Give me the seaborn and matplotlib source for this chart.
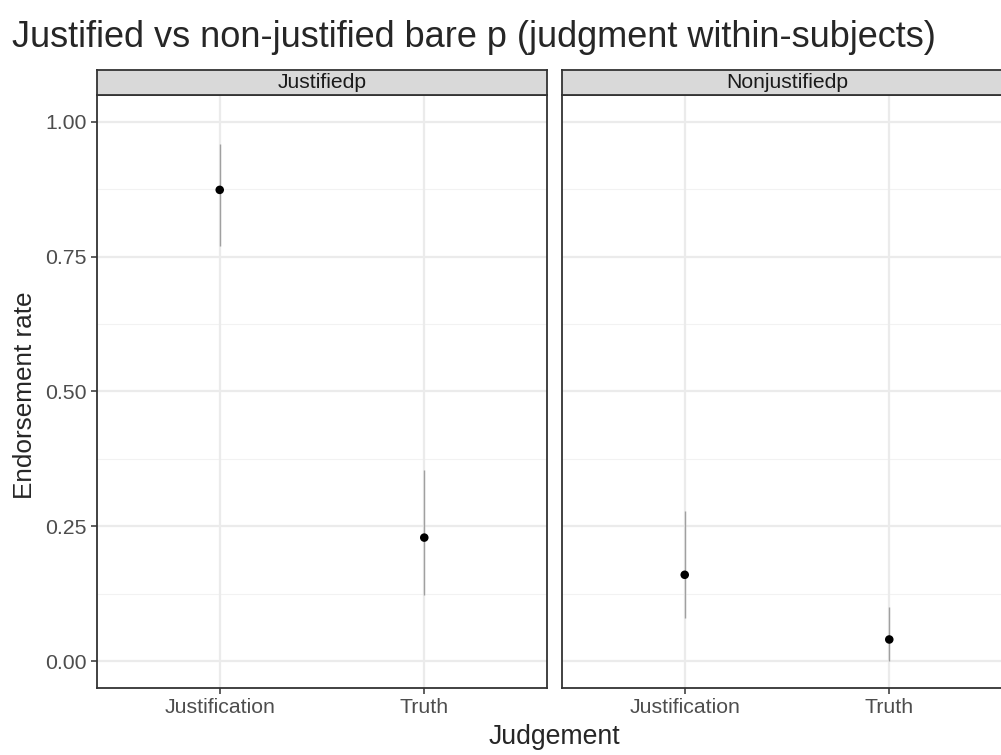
import numpy as np
import matplotlib
matplotlib.use('Agg')
import matplotlib.pyplot as plt
import pandas as pd
import seaborn as sns

# Data
panels = ['Justifiedp', 'Nonjustifiedp']
judgements = ['Justification', 'Truth']
rate = [0.874, 0.229, 0.160, 0.040]
lower = [0.770, 0.122, 0.080, 0.000]
upper = [0.959, 0.355, 0.278, 0.100]

df = pd.DataFrame({
    'panel': np.repeat(panels, len(judgements)),
    'Judgement': judgements * len(panels),
    'rate': rate,
    'lower': lower,
    'upper': upper,
})

sns.set_theme(style='white')
plt.rcParams['font.family'] = ['Liberation Sans', 'DejaVu Sans']

W, H = 1001, 755
fig = plt.figure(figsize=(W / 100, H / 100), dpi=100)

def fx(px):
    return px / W

def fy(px):
    return 1 - px / H

lefts = [97, 562]
pw = 450
top, bottom, strip_top = 95, 688, 70

for i, p in enumerate(panels):
    ax = fig.add_axes([fx(lefts[i]), fy(bottom), fx(pw), (bottom - top) / H])
    sub = df[df['panel'] == p]
    xs = [judgements.index(j) for j in sub['Judgement']]

    # grid (theme_bw)
    for y in [0.125, 0.375, 0.625, 0.875]:
        ax.axhline(y, color='#F2F2F2', lw=0.8, zorder=0)
    for y in [0, 0.25, 0.5, 0.75, 1.0]:
        ax.axhline(y, color='#EBEBEB', lw=1.6, zorder=0)
    for x in range(len(judgements)):
        ax.axvline(x, color='#EBEBEB', lw=1.6, zorder=0)

    ax.vlines(xs, sub['lower'], sub['upper'], color='#A0A0A0', lw=1.0, zorder=2)
    sns.scatterplot(x=xs, y=sub['rate'].values, ax=ax, color='black', s=38,
                    edgecolor='none', zorder=3)

    ax.set_xlim(-0.6, len(judgements) - 0.4)
    ax.set_ylim(-0.05, 1.05)
    ax.set_xticks(range(len(judgements)))
    ax.set_xticklabels(judgements)
    ax.set_yticks([0, 0.25, 0.5, 0.75, 1.0])
    if i == 0:
        ax.set_yticklabels(['0.00', '0.25', '0.50', '0.75', '1.00'])
    else:
        ax.set_yticklabels([])
    ax.tick_params(axis='both', which='major', length=4.5, width=1.1,
                   color='#333333', labelcolor='#4D4D4D', labelsize=15.3,
                   pad=3, bottom=True, left=True)
    if i == 1:
        ax.tick_params(axis='y', length=0)
    ax.set_xlabel('')
    ax.set_ylabel('')
    for s in ax.spines.values():
        s.set_color('#333333')
        s.set_linewidth(1.3)

    # facet strip
    sax = fig.add_axes([fx(lefts[i]), fy(top), fx(pw), (top - strip_top) / H])
    sax.set_facecolor('#D9D9D9')
    sax.set_xticks([])
    sax.set_yticks([])
    for s in sax.spines.values():
        s.set_color('#333333')
        s.set_linewidth(1.3)
    sax.text(0.5, 0.5, p, ha='center', va='center', fontsize=15.2,
             color='#1A1A1A', transform=sax.transAxes)

fig.text(fx(554), fy(744), 'Judgement', ha='center', va='baseline', fontsize=19.2)
fig.text(fx(25), fy(395), 'Endorsement rate', ha='center', va='center',
         rotation=90, fontsize=18.8)
fig.text(fx(12), fy(47), 'Justified vs non-justified bare p (judgment within-subjects)',
         ha='left', va='baseline', fontsize=26)

fig.savefig('out.png', dpi=100)
